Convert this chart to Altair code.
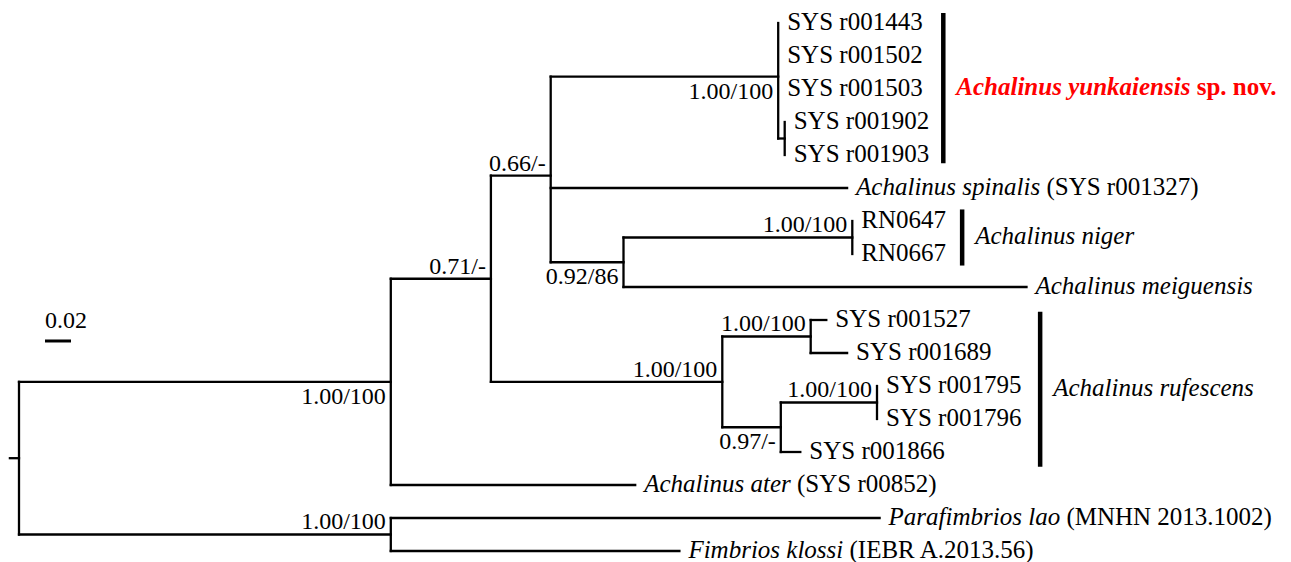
import altair as alt
import pandas as pd

# ---------------- data ----------------
# tree in pre-order (tips appear in drawing order, top to bottom)
node_id = ["root", "A", "C", "D", "E", "t1443", "t1502", "t1503", "F", "t1902", "t1903",
           "spinalis", "G", "H", "RN0647", "RN0667", "meiguensis", "I", "J", "t1527", "t1689",
           "K", "L", "t1795", "t1796", "t1866", "ater", "B", "parafimbrios", "fimbrios"]
parent = [None, "root", "A", "C", "D", "E", "E", "E", "E", "F", "F",
          "D", "D", "G", "H", "H", "G", "C", "I", "J", "J",
          "I", "K", "L", "L", "K", "A", "root", "B", "B"]
branch_len = [0.0, 0.286, 0.077, 0.046, 0.175, 0.0, 0.0, 0.0, 0.005, 0.0, 0.0,
              0.228, 0.056, 0.176, 0.0, 0.0, 0.310, 0.178, 0.068, 0.012, 0.028,
              0.045, 0.074, 0.0, 0.0, 0.015, 0.188, 0.286, 0.376, 0.222]
root_stem = 0.007

tip_names = ["t1443", "t1502", "t1503", "t1902", "t1903", "spinalis", "RN0647", "RN0667",
             "meiguensis", "t1527", "t1689", "t1795", "t1796", "t1866", "ater",
             "parafimbrios", "fimbrios"]
tip_italic = ["", "", "", "", "", "Achalinus spinalis", "", "", "Achalinus meiguensis",
              "", "", "", "", "", "Achalinus ater", "Parafimbrios lao", "Fimbrios klossi"]
tip_roman = ["SYS r001443", "SYS r001502", "SYS r001503", "SYS r001902", "SYS r001903",
             "(SYS r001327)", "RN0647", "RN0667", "", "SYS r001527", "SYS r001689",
             "SYS r001795", "SYS r001796", "SYS r001866", "(SYS r00852)",
             "(MNHN 2013.1002)", "(IEBR A.2013.56)"]

support_node = ["E", "D", "C", "A", "B", "G", "H", "I", "J", "K", "L"]
support_text = ["1.00/100", "0.66/-", "0.71/-", "1.00/100", "1.00/100", "0.92/86",
                "1.00/100", "1.00/100", "1.00/100", "0.97/-", "1.00/100"]
support_side = ["below", "above", "above", "below", "above", "below",
                "above", "above", "above", "below", "above"]

clade_italic = ["Achalinus yunkaiensis", "Achalinus niger", "Achalinus rufescens"]
clade_roman = ["sp. nov.", "", ""]
clade_bar_x = [0.711, 0.7255, 0.7855]
clade_bar_top = [-0.3, 5.65, 8.75]
clade_bar_bottom = [4.25, 7.35, 13.45]
clade_color = ["#ff0000", "#000000", "#000000"]
clade_bold = [True, False, False]

scale_bar_start = [0.02]
scale_bar_len = [0.02]
scale_bar_label = ["0.02"]

# ---------------- layout helpers ----------------
W, H = 1275, 554
X_DOM = [-0.00846, 0.97231]
Y_DOM = [-0.4545, -0.4545 + H / 33.0]
PPU = W / (X_DOM[1] - X_DOM[0])
FONT = "Liberation Serif"
FS = 25
GAP = 9

ITALIC_W = {"A": 611, "P": 611, "F": 611, "a": 500, "b": 500, "c": 444, "e": 444, "f": 278,
            "g": 500, "h": 500, "i": 278, "k": 444, "l": 278, "m": 722, "n": 500, "o": 500,
            "p": 500, "r": 389, "s": 389, "t": 278, "u": 500, "y": 444, " ": 250}
BOLDITALIC_W = {"A": 667, "a": 500, "c": 444, "e": 444, "h": 556, "i": 278, "k": 500,
                "l": 278, "n": 556, "s": 389, "u": 556, "y": 444, " ": 250}


def tw(s, table, size):
    return sum(table.get(ch, 500) for ch in s) / 1000.0 * size


xpos, ypos, children = {}, {}, {}
for n, p, bl in zip(node_id, parent, branch_len):
    xpos[n] = 0.0 if p is None else xpos[p] + bl
    children.setdefault(n, [])
    if p is not None:
        children[p].append(n)
for i, t in enumerate(tip_names):
    ypos[t] = float(i)
for n in reversed(node_id):
    if children[n]:
        ypos[n] = sum(ypos[c] for c in children[n]) / len(children[n])

segs = []
for n, p in zip(node_id, parent):
    if p is not None and xpos[n] > xpos[p]:
        segs.append({"x": xpos[p], "x2": xpos[n], "y": ypos[n], "y2": ypos[n]})
    if children[n]:
        ys_ = [ypos[c] for c in children[n]]
        segs.append({"x": xpos[n], "x2": xpos[n], "y": min(ys_), "y2": max(ys_)})
segs.append({"x": -root_stem, "x2": 0.0, "y": ypos["root"], "y2": ypos["root"]})
seg_df = pd.DataFrame(segs)

ital_rows, rom_rows = [], []
for t, it, ro in zip(tip_names, tip_italic, tip_roman):
    x0 = xpos[t] + GAP / PPU
    if it:
        ital_rows.append({"x": x0, "y": ypos[t], "t": it})
        x0 += tw(it + " ", ITALIC_W, FS) / PPU
    if ro:
        rom_rows.append({"x": x0, "y": ypos[t], "t": ro})
ital_df = pd.DataFrame(ital_rows)
rom_df = pd.DataFrame(rom_rows)

sup_df = pd.DataFrame({"x": [xpos[n] for n in support_node],
                       "y": [ypos[n] for n in support_node],
                       "t": support_text, "side": support_side})

clade_df = pd.DataFrame({"x": clade_bar_x, "y": clade_bar_top, "y2": clade_bar_bottom})
cl_it, cl_ro = [], []
for it, ro, bx, t0, t1, col, bold in zip(clade_italic, clade_roman, clade_bar_x,
                                          clade_bar_top, clade_bar_bottom, clade_color, clade_bold):
    xl = bx + 13 / PPU
    yc = (t0 + t1) / 2
    cl_it.append({"x": xl, "y": yc, "t": it, "c": col, "w": "bold" if bold else "normal"})
    if ro:
        xr = xl + tw(it + " ", BOLDITALIC_W if bold else ITALIC_W, FS) / PPU
        cl_ro.append({"x": xr, "y": yc, "t": ro, "c": col, "w": "bold" if bold else "normal"})
cl_it_df = pd.DataFrame(cl_it)
cl_ro_df = pd.DataFrame(cl_ro)

sb_df = pd.DataFrame({"x": scale_bar_start,
                      "x2": [a + b for a, b in zip(scale_bar_start, scale_bar_len)],
                      "y": [9.636], "ty": [9.24], "t": scale_bar_label})

# ---------------- chart ----------------
xs = alt.Scale(domain=X_DOM, nice=False, zero=False)
ys = alt.Scale(domain=Y_DOM, nice=False, zero=False, reverse=True)
X = alt.X("x:Q", scale=xs, axis=None)
Y = alt.Y("y:Q", scale=ys, axis=None)

branches = alt.Chart(seg_df).mark_rule(color="black", strokeWidth=2.3, strokeCap="square").encode(
    x=X, x2="x2:Q", y=Y, y2="y2:Q")

bars = alt.Chart(clade_df).mark_rule(color="black", strokeWidth=4.5).encode(
    x=X, y=Y, y2="y2:Q")

sbar = alt.Chart(sb_df).mark_rule(color="black", strokeWidth=3).encode(
    x=X, x2="x2:Q", y=Y)
sbtext = alt.Chart(sb_df).mark_text(font=FONT, fontSize=24, align="left", baseline="alphabetic",
                                    color="black").encode(
    x=X, y=alt.Y("ty:Q", scale=ys, axis=None), text="t:N")

tips_it = alt.Chart(ital_df).mark_text(font=FONT, fontSize=FS, fontStyle="italic", align="left",
                                       baseline="alphabetic", dy=7, color="black").encode(
    x=X, y=Y, text="t:N")
tips_ro = alt.Chart(rom_df).mark_text(font=FONT, fontSize=FS, align="left",
                                      baseline="alphabetic", dy=7, color="black").encode(
    x=X, y=Y, text="t:N")

sup_above = alt.Chart(sup_df).transform_filter(alt.datum.side == "above").mark_text(
    font=FONT, fontSize=24, align="right", baseline="alphabetic", dx=-5, dy=-5, color="black").encode(
    x=X, y=Y, text="t:N")
sup_below = alt.Chart(sup_df).transform_filter(alt.datum.side == "below").mark_text(
    font=FONT, fontSize=24, align="right", baseline="alphabetic", dx=-5, dy=22, color="black").encode(
    x=X, y=Y, text="t:N")

layers = [branches, bars, sbar, sbtext, tips_it, tips_ro, sup_above, sup_below]

cl_it_bold = cl_it_df[cl_it_df["w"] == "bold"]
cl_it_norm = cl_it_df[cl_it_df["w"] == "normal"]
layers.append(alt.Chart(cl_it_bold).mark_text(font=FONT, fontSize=FS, fontStyle="italic",
                                              fontWeight="bold", align="left", baseline="alphabetic",
                                              dy=7).encode(
    x=X, y=Y, text="t:N", color=alt.Color("c:N", scale=None)))
layers.append(alt.Chart(cl_it_norm).mark_text(font=FONT, fontSize=FS, fontStyle="italic",
                                              align="left", baseline="alphabetic", dy=7).encode(
    x=X, y=Y, text="t:N", color=alt.Color("c:N", scale=None)))
if len(cl_ro_df):
    layers.append(alt.Chart(cl_ro_df).mark_text(font=FONT, fontSize=FS, fontWeight="bold",
                                                align="left", baseline="alphabetic", dy=7).encode(
        x=X, y=Y, text="t:N", color=alt.Color("c:N", scale=None)))

chart = alt.layer(*layers).properties(
    width=W, height=H, padding=0, autosize="none", background="white"
).configure_view(stroke=None)

chart.save("out.html", embed_options={"renderer": "svg", "actions": False})
